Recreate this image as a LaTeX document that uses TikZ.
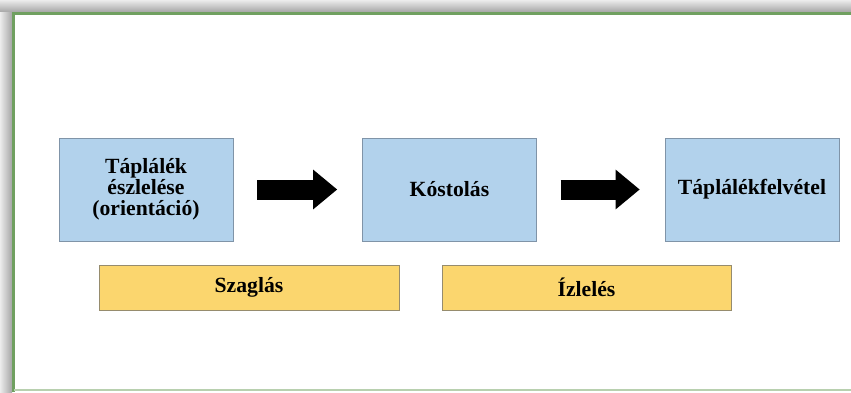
\documentclass[tikz,border=0pt]{standalone}
\usepackage{fontspec}
\setmainfont{Liberation Serif}
\usetikzlibrary{arrows.meta, positioning}
\definecolor{boxblue}{RGB}{178,210,236}
\definecolor{boxedge}{RGB}{128,148,168}
\definecolor{senseyellow}{RGB}{251,214,110}
\definecolor{senseedge}{RGB}{150,140,110}
\definecolor{framegreen}{RGB}{112,160,96}

\begin{document}
\begin{tikzpicture}[x=0.03cm, y=-0.03cm, node distance=3.87cm,
    every node/.style={font=\fontsize{18.5}{18}\selectfont\bfseries},
    box/.style={rectangle, draw=boxedge, fill=boxblue, minimum width=5.22cm, minimum height=3.09cm, align=center},
    sense/.style={rectangle, draw=senseedge, fill=senseyellow, minimum height=1.35cm},
    bigarrow/.style={line width=0.6cm, -{Triangle[length=0.72cm, width=1.14cm]}, shorten <=0.72cm, shorten >=0.75cm}]
    \useasboundingbox (0,0) rectangle (851,392);
    % frame with shadow
    \shade[top color=gray!15, bottom color=gray!70] (0,0) rectangle (851,12);
    \shade[left color=gray!15, right color=gray!70] (0,12) rectangle (12,392);
    \draw[framegreen, line width=0.09cm] (860,13.5) -- (13.5,13.5) -- (13.5,392);
    \draw[framegreen!50, line width=0.05cm] (13.5,390) -- (860,390);

    \node[box] (detect) at (146,189.5) {Táplálék\\észlelése\\(orientáció)};
    \node[box, right=of detect] (taste) {Kóstolás};
    \node[box, right=3.84cm of taste] (intake) {Táplálékfelvétel};
    \draw[bigarrow] (detect) -- (taste);
    \draw[bigarrow] (taste) -- (intake);

    \node[sense, minimum width=9cm] (smell) at (249,287.5) {Szaglás};
    \node[sense, minimum width=8.67cm] (flavour) at (586.5,287.5) {Ízlelés};
\end{tikzpicture}
\end{document}
